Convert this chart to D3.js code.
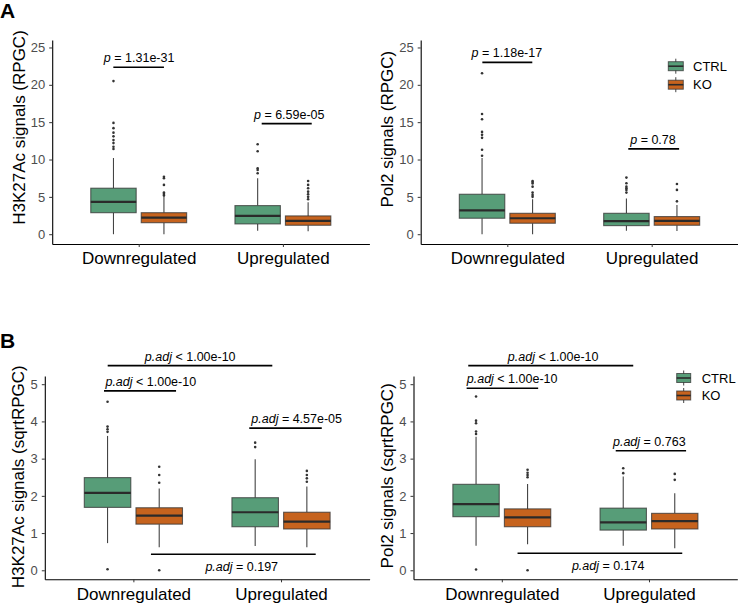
<!DOCTYPE html>
<html><head><meta charset="utf-8">
<script src="https://cdn.jsdelivr.net/npm/d3@7"></script>
<style>
body{margin:0;background:#fff}
svg{display:block}
text{font-family:"Liberation Sans",Arial,Helvetica,sans-serif}
</style>
</head><body>
<svg id="chart" width="738" height="603"></svg>
<script>
// ---------- DATA ----------
const categories = ["Downregulated", "Upregulated"];
const groups = ["CTRL", "KO"];
const groupColors = ["#579D78", "#C6631E"];
const yTicksRPGC = [0, 5, 10, 15, 20, 25];
const yTicksSqrt = [0, 1, 2, 3, 4, 5];

// box stats: [category, group, lowerWhisker, q1, median, q3, upperWhisker]
const h3k27acRPGCBoxes = [
  ["Downregulated", "CTRL", 0, 2.88, 4.33, 6.16, 10.2],
  ["Downregulated", "KO", 0, 1.54, 2.21, 2.88, 5.0],
  ["Upregulated", "CTRL", 0.45, 1.38, 2.45, 3.83, 7.5],
  ["Upregulated", "KO", 0.4, 1.2, 1.79, 2.45, 4.28]
];
const h3k27acRPGCOutliers = [
  ["Downregulated", "CTRL", [11.4, 11.7, 12.2, 12.6, 13.1, 13.6, 14.2, 14.9, 20.5]],
  ["Downregulated", "KO", [5.17, 5.4, 5.57, 6.6, 7.5, 7.7]],
  ["Upregulated", "CTRL", [8.17, 8.6, 8.83, 11.1, 12.05]],
  ["Upregulated", "KO", [4.68, 5.0, 5.35, 5.7, 6.16, 6.6, 7.13]]
];
// brackets: [xmin, xmax, y, labelX, label, labelBelow]  (x in category units)
const h3k27acRPGCBrackets = [
  [0.824, 1.175, 22.36, 1.003, "p = 1.31e-31", false],
  [1.853, 2.2, 14.8, 2.044, "p = 6.59e-05", false]
];

const pol2RPGCBoxes = [
  ["Downregulated", "CTRL", 0, 2.14, 3.2, 5.35, 10.2],
  ["Downregulated", "KO", 0, 1.47, 2.14, 2.8, 4.68],
  ["Upregulated", "CTRL", 0.45, 1.15, 1.74, 2.8, 4.77],
  ["Upregulated", "KO", 0.44, 1.2, 1.78, 2.36, 3.92]
];
const pol2RPGCOutliers = [
  ["Downregulated", "CTRL", [10.5, 11.3, 12.9, 13.3, 13.7, 15.4, 16.1, 21.55]],
  ["Downregulated", "KO", [5.0, 5.26, 5.57, 6.37, 6.8, 7.0, 7.13]],
  ["Upregulated", "CTRL", [5.57, 5.93, 6.15, 6.37, 6.83, 7.58]],
  ["Upregulated", "KO", [4.4, 5.93, 6.73]]
];
const pol2RPGCBrackets = [
  [0.827, 1.173, 23.0, 0.997, "p = 1.18e-17", false],
  [1.838, 2.19, 11.42, 2.009, "p = 0.78", false]
];

const h3k27acSqrtBoxes = [
  ["Downregulated", "CTRL", 0.73, 1.69, 2.08, 2.49, 3.61],
  ["Downregulated", "KO", 0.62, 1.24, 1.47, 1.68, 2.2],
  ["Upregulated", "CTRL", 0.65, 1.17, 1.56, 1.95, 2.98],
  ["Upregulated", "KO", 0.62, 1.11, 1.31, 1.56, 2.25]
];
const h3k27acSqrtOutliers = [
  ["Downregulated", "CTRL", [0.03, 3.72, 3.79, 3.86, 4.53]],
  ["Downregulated", "KO", [0.0, 2.35, 2.56, 2.78]],
  ["Upregulated", "CTRL", [3.31, 3.43]],
  ["Upregulated", "KO", [2.38, 2.47, 2.56, 2.67]]
];
const h3k27acSqrtBrackets = [
  [0.826, 1.941, 5.5, 1.385, "p.adj < 1.00e-10", false],
  [0.801, 1.289, 4.82, 1.118, "p.adj < 1.00e-10", false],
  [1.785, 2.276, 3.82, 2.106, "p.adj = 4.57e-05", false],
  [1.119, 2.235, 0.43, 1.734, "p.adj = 0.197", true]
];

const pol2SqrtBoxes = [
  ["Downregulated", "CTRL", 0.66, 1.44, 1.78, 2.31, 3.59],
  ["Downregulated", "KO", 0.7, 1.17, 1.42, 1.65, 2.32],
  ["Upregulated", "CTRL", 0.66, 1.08, 1.29, 1.67, 2.52],
  ["Upregulated", "KO", 0.59, 1.11, 1.32, 1.53, 2.07]
];
const pol2SqrtOutliers = [
  ["Downregulated", "CTRL", [0.02, 3.66, 3.73, 3.95, 4.02, 4.67]],
  ["Downregulated", "KO", [0.0, 2.5, 2.56, 2.62, 2.7]],
  ["Upregulated", "CTRL", [2.61, 2.74]],
  ["Upregulated", "KO", [2.43, 2.59]]
];
const pol2SqrtBrackets = [
  [0.772, 1.893, 5.5, 1.349, "p.adj < 1.00e-10", false],
  [0.761, 1.247, 4.89, 1.07, "p.adj < 1.00e-10", false],
  [1.774, 2.252, 3.21, 2.002, "p.adj = 0.763", false],
  [1.107, 2.226, 0.457, 1.723, "p.adj = 0.174", true]
];

// ---------- LAYOUT ----------
const panels = [
  {boxes: h3k27acRPGCBoxes, outliers: h3k27acRPGCOutliers, brackets: h3k27acRPGCBrackets, ticks: yTicksRPGC,
   title: "H3K27Ac signals (RPGC)", L: 52.2, R: 369.4, top: 40, bottom: 244, yDom: [-1.31, 26.0],
   titleX: 24.5, titleY: 127.5, catY: 19.5, legend: null},
  {boxes: pol2RPGCBoxes, outliers: pol2RPGCOutliers, brackets: pol2RPGCBrackets, ticks: yTicksRPGC,
   title: "Pol2 signals (RPGC)", L: 420.7, R: 738.3, top: 40, bottom: 244, yDom: [-1.31, 26.0],
   titleX: 393, titleY: 129.2, catY: 19.5, legend: {x: 668.3, w: 15, rows: [66.2, 84.7], tx: 693}},
  {boxes: h3k27acSqrtBoxes, outliers: h3k27acSqrtOutliers, brackets: h3k27acSqrtBrackets, ticks: yTicksSqrt,
   title: "H3K27Ac signals (sqrtRPGC)", L: 44.8, R: 369.6, top: 376, bottom: 579.3, yDom: [-0.242, 5.22],
   titleX: 24, titleY: 476.7, catY: 20.5, legend: null},
  {boxes: pol2SqrtBoxes, outliers: pol2SqrtOutliers, brackets: pol2SqrtBrackets, ticks: yTicksSqrt,
   title: "Pol2 signals (sqrtRPGC)", L: 413.5, R: 737.3, top: 376, bottom: 579.3, yDom: [-0.242, 5.22],
   titleX: 393, titleY: 475.8, catY: 20.5, legend: {x: 676.7, w: 14, rows: [378, 395.5], tx: 701.7}}
];

const svg = d3.select("#chart");
const colorScale = d3.scaleOrdinal().domain(groups).range(groupColors);
const boxStroke = "#333333";

panels.forEach(p => {
  const g = svg.append("g");
  const x = d3.scalePoint().domain(categories).range([p.L, p.R]).padding(0.6);
  const step = x.step();
  const y = d3.scaleLinear().domain(p.yDom).range([p.bottom, p.top]);
  const dodge = d3.scaleOrdinal().domain(groups).range([-0.175, 0.175]);
  const gx = (cat, grp) => x(cat) + dodge(grp) * step;
  const cu = u => x(categories[0]) + (u - 1) * step;
  const hw = 0.1575 * step;

  // outliers
  p.outliers.forEach(([cat, grp, vals]) => {
    g.selectAll(null).data(vals).enter().append("circle")
      .attr("cx", gx(cat, grp)).attr("cy", d => y(d)).attr("r", 1.3)
      .attr("fill", "#333");
  });

  // boxes
  p.boxes.forEach(([cat, grp, lo, q1, med, q3, hi]) => {
    const cx = gx(cat, grp);
    g.append("line").attr("x1", cx).attr("x2", cx).attr("y1", y(lo)).attr("y2", y(q1))
      .attr("stroke", "#444").attr("stroke-width", 1.1);
    g.append("line").attr("x1", cx).attr("x2", cx).attr("y1", y(q3)).attr("y2", y(hi))
      .attr("stroke", "#444").attr("stroke-width", 1.1);
    g.append("rect").attr("x", cx - hw).attr("width", 2 * hw)
      .attr("y", y(q3)).attr("height", y(q1) - y(q3))
      .attr("fill", colorScale(grp)).attr("stroke", boxStroke).attr("stroke-opacity", 0.75)
      .attr("stroke-width", 1.1);
    g.append("line").attr("x1", cx - hw).attr("x2", cx + hw).attr("y1", y(med)).attr("y2", y(med))
      .attr("stroke", "#2a2a2a").attr("stroke-width", 2.2);
  });

  // axes
  const ya = g.append("g").attr("transform", `translate(${p.L},0)`)
    .call(d3.axisLeft(y).tickValues(p.ticks).tickFormat(d3.format("d"))
      .tickSize(3).tickSizeOuter(0).tickPadding(4));
  ya.select(".domain").attr("stroke", "#000").attr("stroke-width", 1.1);
  ya.selectAll(".tick line").attr("stroke", "#333");
  ya.selectAll(".tick text").attr("fill", "#4d4d4d").style("font-size", "13px")
    .style("font-family", '"Liberation Sans",Arial,sans-serif');

  const xa = g.append("g").attr("transform", `translate(0,${p.bottom})`)
    .call(d3.axisBottom(x).tickSize(3).tickSizeOuter(0));
  xa.select(".domain").attr("stroke", "#000").attr("stroke-width", 1.1);
  xa.selectAll(".tick line").attr("stroke", "#333");
  xa.selectAll(".tick text").attr("fill", "#000").attr("dy", null).attr("y", p.catY)
    .style("font-size", "17px").style("font-family", '"Liberation Sans",Arial,sans-serif');

  // y title
  g.append("text").attr("transform", `translate(${p.titleX},${p.titleY}) rotate(-90)`)
    .attr("text-anchor", "middle").style("font-size", "17px").attr("fill", "#000").text(p.title);

  // brackets
  p.brackets.forEach(([x1, x2, yv, lx, label, below]) => {
    g.append("line").attr("x1", cu(x1)).attr("x2", cu(x2)).attr("y1", y(yv)).attr("y2", y(yv))
      .attr("stroke", "#000").attr("stroke-width", 1.6);
    const sp = label.indexOf(" ");
    const t = g.append("text").attr("x", cu(lx)).attr("y", y(yv) + (below ? 16.5 : -5))
      .attr("text-anchor", "middle").style("font-size", "12.5px").attr("fill", "#000");
    t.append("tspan").style("font-style", "italic").text(label.slice(0, sp));
    t.append("tspan").text(label.slice(sp));
  });

  // legend
  if (p.legend) {
    const lg = p.legend;
    groups.forEach((grp, i) => {
      const cy = lg.rows[i];
      const kx = lg.x + lg.w / 2;
      g.append("line").attr("x1", kx).attr("x2", kx).attr("y1", cy - 7.5).attr("y2", cy + 7.5)
        .attr("stroke", "#444").attr("stroke-width", 1);
      g.append("rect").attr("x", lg.x).attr("y", cy - 4.5).attr("width", lg.w).attr("height", 9)
        .attr("fill", colorScale(grp)).attr("stroke", boxStroke).attr("stroke-opacity", 0.75).attr("stroke-width", 1);
      g.append("line").attr("x1", lg.x).attr("x2", lg.x + lg.w).attr("y1", cy).attr("y2", cy)
        .attr("stroke", "#2a2a2a").attr("stroke-width", 1.6);
      g.append("text").attr("x", lg.tx).attr("y", cy + 4.7).style("font-size", "13px")
        .attr("fill", "#000").text(grp);
    });
  }
});

// panel letters
svg.append("text").attr("x", 0).attr("y", 18.3).style("font-size", "21px").style("font-weight", "bold").text("A");
svg.append("text").attr("x", 0).attr("y", 347.7).style("font-size", "21px").style("font-weight", "bold").text("B");
</script>
</body></html>
